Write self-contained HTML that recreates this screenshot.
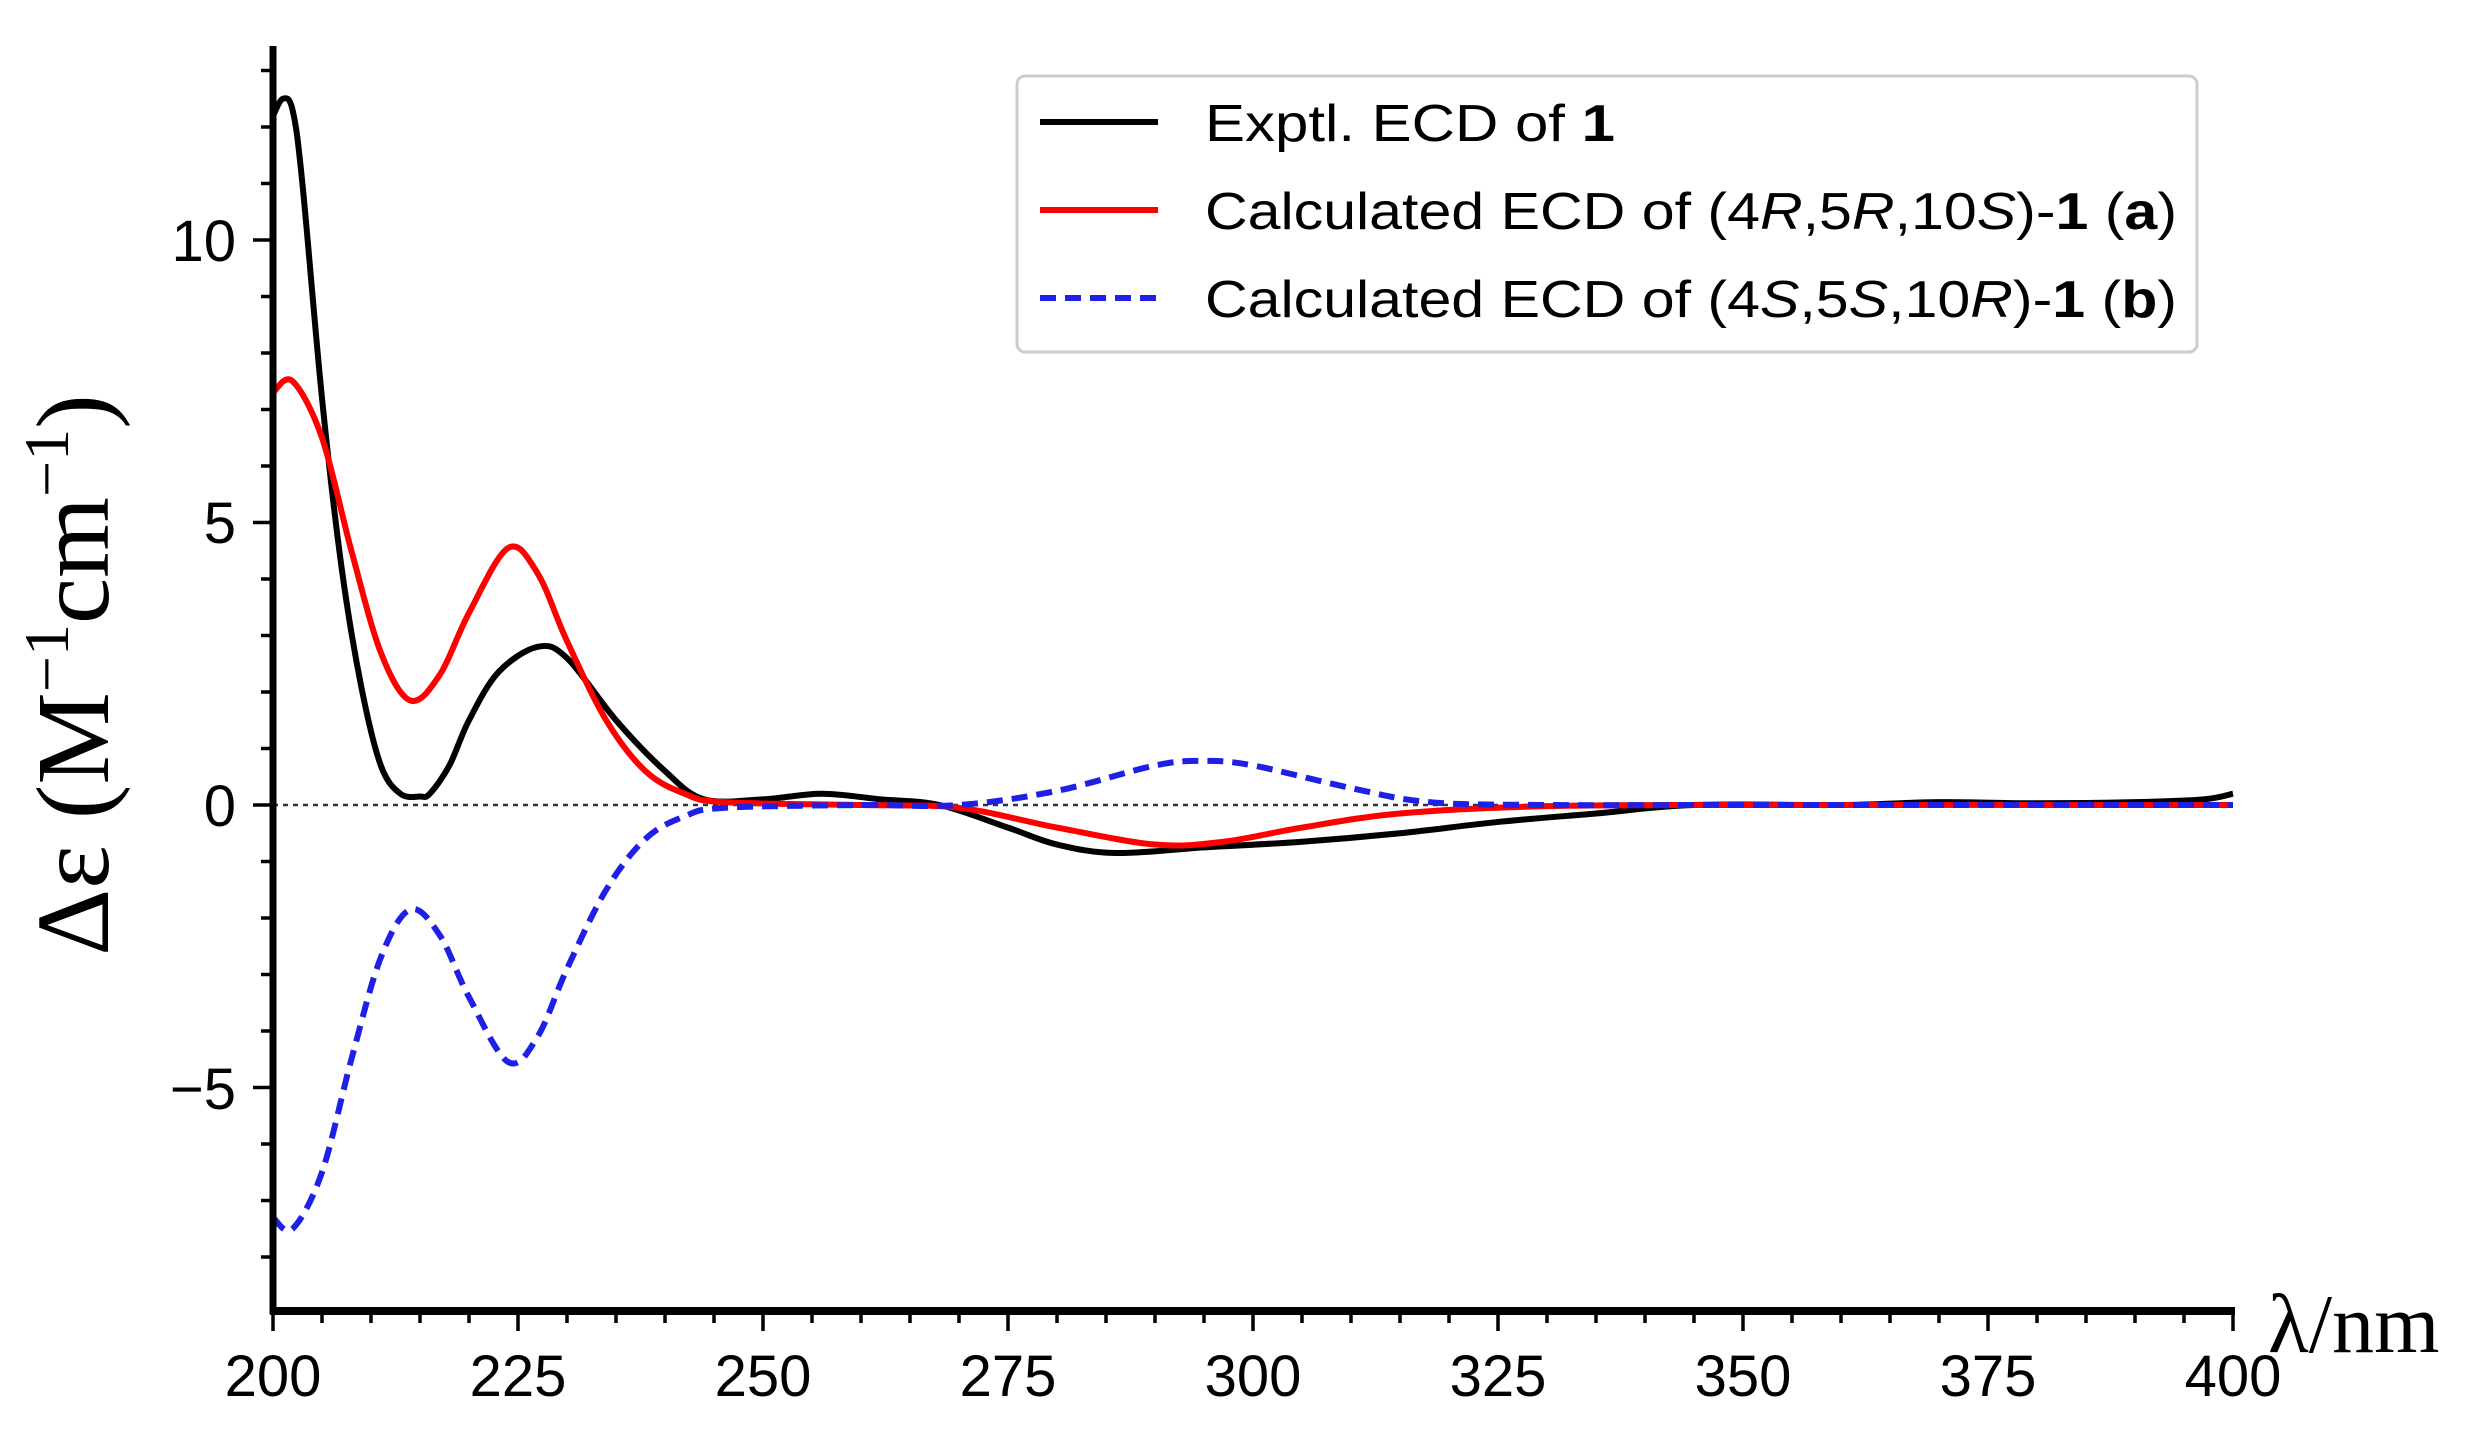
<!DOCTYPE html>
<html><head><meta charset="utf-8"><style>
html,body{margin:0;padding:0;background:#fff;}
svg{display:block;}
</style></head><body>
<svg id="s" width="2490" height="1430" viewBox="0 0 2490 1430" xmlns="http://www.w3.org/2000/svg">
<g id="ticks" stroke="#000" stroke-width="3.5"></g>
<line x1="273" y1="805" x2="2233" y2="805" stroke="#333" stroke-width="2.5" stroke-dasharray="5,5"/>
<path id="pk" fill="none" stroke="#000" stroke-width="6"/>
<path id="pr" fill="none" stroke="#ff0000" stroke-width="6"/>
<path id="pb" fill="none" stroke="#1f1fe6" stroke-width="6" stroke-dasharray="16,9"/>
<line x1="273" y1="46" x2="273" y2="1314" stroke="#000" stroke-width="7"/>
<line x1="270" y1="1311" x2="2235" y2="1311" stroke="#000" stroke-width="8"/>
<g font-family="Liberation Sans, sans-serif" font-size="58" fill="#000">
<text x="236" y="261" text-anchor="end">10</text>
<text x="236" y="543" text-anchor="end">5</text>
<text x="236" y="826" text-anchor="end">0</text>
<text x="236" y="1109" text-anchor="end">−5</text>
<text x="273" y="1396" text-anchor="middle">200</text>
<text x="518" y="1396" text-anchor="middle">225</text>
<text x="763" y="1396" text-anchor="middle">250</text>
<text x="1008" y="1396" text-anchor="middle">275</text>
<text x="1253" y="1396" text-anchor="middle">300</text>
<text x="1498" y="1396" text-anchor="middle">325</text>
<text x="1743" y="1396" text-anchor="middle">350</text>
<text x="1988" y="1396" text-anchor="middle">375</text>
<text x="2233" y="1396" text-anchor="middle">400</text>
</g>
<text x="2268" y="1352" font-family="Liberation Serif, serif" font-size="84">λ/nm</text>
<text transform="translate(108,675) rotate(-90)" text-anchor="middle" font-family="Liberation Serif, serif" font-size="104">Δε (M<tspan dy="-40" font-size="64">−1</tspan><tspan dy="40">cm</tspan><tspan dy="-40" font-size="64">−1</tspan><tspan dy="40">)</tspan></text>
<rect x="1017" y="76" width="1180" height="276" rx="8" fill="#fff" stroke="#ccc" stroke-width="3"/>
<line x1="1040" y1="122" x2="1158" y2="122" stroke="#000" stroke-width="6"/>
<line x1="1040" y1="210" x2="1158" y2="210" stroke="#ff0000" stroke-width="6"/>
<line x1="1040" y1="298" x2="1158" y2="298" stroke="#1f1fe6" stroke-width="6" stroke-dasharray="16,9"/>
<g font-family="Liberation Sans, sans-serif" font-size="52" fill="#000">
<text x="1205" y="141" textLength="410" lengthAdjust="spacingAndGlyphs">Exptl. ECD of <tspan font-weight="bold">1</tspan></text>
<text x="1205" y="229" textLength="972" lengthAdjust="spacingAndGlyphs">Calculated ECD of (4<tspan font-style="italic">R</tspan>,5<tspan font-style="italic">R</tspan>,10<tspan font-style="italic">S</tspan>)-<tspan font-weight="bold">1</tspan> (<tspan font-weight="bold">a</tspan>)</text>
<text x="1205" y="317" textLength="972" lengthAdjust="spacingAndGlyphs">Calculated ECD of (4<tspan font-style="italic">S</tspan>,5<tspan font-style="italic">S</tspan>,10<tspan font-style="italic">R</tspan>)-<tspan font-weight="bold">1</tspan> (<tspan font-weight="bold">b</tspan>)</text>
</g>
</svg>
<script>
var X=function(n){return 273+(n-200)*9.8;};
var Y=function(v){return 805-v*56.5;};
var t=document.getElementById('ticks'),h='';
for(var n=200;n<=400;n+=5){var L=(n%25==0)?20:12;h+='<line x1="'+X(n)+'" y1="1311" x2="'+X(n)+'" y2="'+(1311+L)+'"/>';}
for(var v=-8;v<=13;v++){var L=(v%5==0)?20:12;h+='<line x1="'+(273-L)+'" y1="'+Y(v)+'" x2="273" y2="'+Y(v)+'"/>';}
t.innerHTML=h;
function path(d){var p=d.map(function(a){return [X(a[0]),Y(a[1])];});var s='M'+p[0][0]+','+p[0][1];
for(var i=0;i<p.length-1;i++){var p0=p[i-1]||p[i],p1=p[i],p2=p[i+1],p3=p[i+2]||p2;
s+=' C'+(p1[0]+(p2[0]-p0[0])/6)+','+(p1[1]+(p2[1]-p0[1])/6)+' '+(p2[0]-(p3[0]-p1[0])/6)+','+(p2[1]-(p3[1]-p1[1])/6)+' '+p2[0]+','+p2[1];}return s;}
var K=[[200,12.2],[201,12.5],[202,12.3],[203,11],[205,7.2],[207,4.2],[209,2.1],[211,0.7],[213,0.2],[215,0.15],[216,0.2],[218,0.7],[220,1.5],[223,2.35],[227,2.8],[230,2.6],[235,1.5],[240,0.6],[244,0.1],[250,0.1],[256,0.2],[262,0.1],[268,0],[275,-0.4],[280,-0.7],[286,-0.85],[295,-0.75],[305,-0.65],[315,-0.5],[325,-0.3],[335,-0.15],[345,0],[360,0],[370,0.05],[380,0.03],[390,0.05],[397,0.1],[400,0.2]];
var Rd=[[200,7.3],[202,7.5],[205,6.5],[208,4.5],[211,2.7],[214,1.85],[217,2.3],[220,3.4],[224,4.55],[227,4.1],[230,2.9],[234,1.5],[238,0.6],[242,0.2],[246,0.05],[260,0],[270,-0.05],[280,-0.4],[290,-0.7],[297,-0.65],[305,-0.4],[315,-0.15],[330,-0.02],[350,0],[400,0]];
var B=[];Rd.forEach(function(a){if(a[0]<=260)B.push([a[0],-a[1]]);});
B=B.concat([[270,0],[280,0.25],[290,0.7],[295,0.78],[300,0.7],[310,0.3],[318,0.05],[330,0],[350,0],[400,0]]);
document.getElementById('pk').setAttribute('d',path(K));
document.getElementById('pr').setAttribute('d',path(Rd));
document.getElementById('pb').setAttribute('d',path(B));
</script>
</body></html>
